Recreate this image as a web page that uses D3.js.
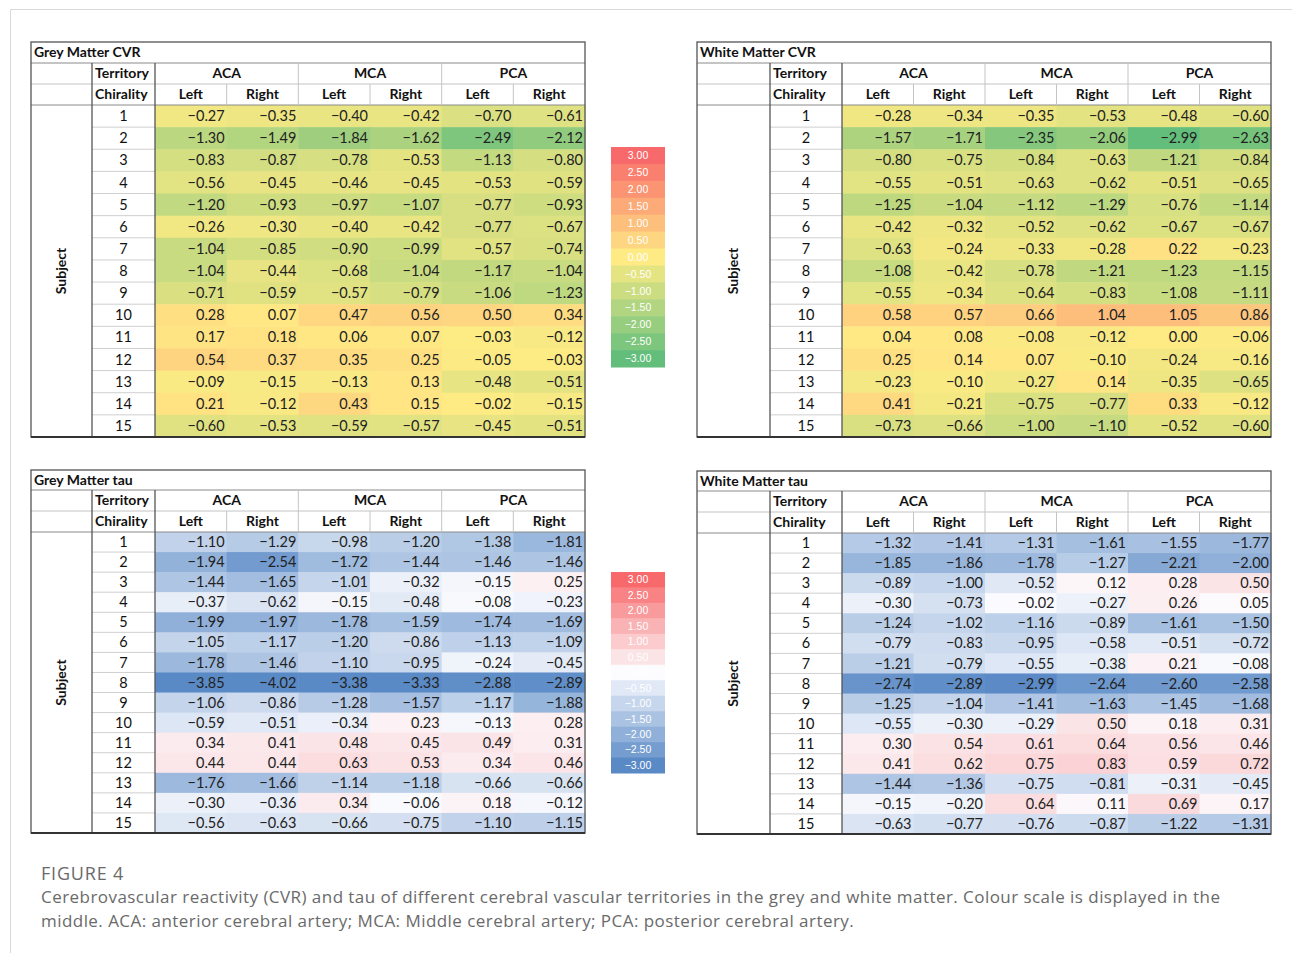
<!DOCTYPE html>
<html>
<head>
<meta charset="utf-8">
<script src="https://cdn.jsdelivr.net/npm/d3@7"></script>
<style>
  body { margin: 0; background: #fff; }
  svg { display: block; }
</style>
</head>
<body>
<svg id="chart"></svg>
<script>
// données
const subjects = [1, 2, 3, 4, 5, 6, 7, 8, 9, 10, 11, 12, 13, 14, 15];
const territories = ['ACA', 'MCA', 'PCA'];
const chirality = ['Left', 'Right'];
const legendSteps = [3, 2.5, 2, 1.5, 1, 0.5, 0, -0.5, -1, -1.5, -2, -2.5, -3];

// colonnes : ACA L, ACA R, MCA L, MCA R, PCA L, PCA R
const gmCvr = [
  [-0.27, -0.35, -0.40, -0.42, -0.70, -0.61],
  [-1.30, -1.49, -1.84, -1.62, -2.49, -2.12],
  [-0.83, -0.87, -0.78, -0.53, -1.13, -0.80],
  [-0.56, -0.45, -0.46, -0.45, -0.53, -0.59],
  [-1.20, -0.93, -0.97, -1.07, -0.77, -0.93],
  [-0.26, -0.30, -0.40, -0.42, -0.77, -0.67],
  [-1.04, -0.85, -0.90, -0.99, -0.57, -0.74],
  [-1.04, -0.44, -0.68, -1.04, -1.17, -1.04],
  [-0.71, -0.59, -0.57, -0.79, -1.06, -1.23],
  [0.28, 0.07, 0.47, 0.56, 0.50, 0.34],
  [0.17, 0.18, 0.06, 0.07, -0.03, -0.12],
  [0.54, 0.37, 0.35, 0.25, -0.05, -0.03],
  [-0.09, -0.15, -0.13, 0.13, -0.48, -0.51],
  [0.21, -0.12, 0.43, 0.15, -0.02, -0.15],
  [-0.60, -0.53, -0.59, -0.57, -0.45, -0.51]
];

const wmCvr = [
  [-0.28, -0.34, -0.35, -0.53, -0.48, -0.60],
  [-1.57, -1.71, -2.35, -2.06, -2.99, -2.63],
  [-0.80, -0.75, -0.84, -0.63, -1.21, -0.84],
  [-0.55, -0.51, -0.63, -0.62, -0.51, -0.65],
  [-1.25, -1.04, -1.12, -1.29, -0.76, -1.14],
  [-0.42, -0.32, -0.52, -0.62, -0.67, -0.67],
  [-0.63, -0.24, -0.33, -0.28, 0.22, -0.23],
  [-1.08, -0.42, -0.78, -1.21, -1.23, -1.15],
  [-0.55, -0.34, -0.64, -0.83, -1.08, -1.11],
  [0.58, 0.57, 0.66, 1.04, 1.05, 0.86],
  [0.04, 0.08, -0.08, -0.12, 0.00, -0.06],
  [0.25, 0.14, 0.07, -0.10, -0.24, -0.16],
  [-0.23, -0.10, -0.27, 0.14, -0.35, -0.65],
  [0.41, -0.21, -0.75, -0.77, 0.33, -0.12],
  [-0.73, -0.66, -1.00, -1.10, -0.52, -0.60]
];

const gmTau = [
  [-1.10, -1.29, -0.98, -1.20, -1.38, -1.81],
  [-1.94, -2.54, -1.72, -1.44, -1.46, -1.46],
  [-1.44, -1.65, -1.01, -0.32, -0.15, 0.25],
  [-0.37, -0.62, -0.15, -0.48, -0.08, -0.23],
  [-1.99, -1.97, -1.78, -1.59, -1.74, -1.69],
  [-1.05, -1.17, -1.20, -0.86, -1.13, -1.09],
  [-1.78, -1.46, -1.10, -0.95, -0.24, -0.45],
  [-3.85, -4.02, -3.38, -3.33, -2.88, -2.89],
  [-1.06, -0.86, -1.28, -1.57, -1.17, -1.88],
  [-0.59, -0.51, -0.34, 0.23, -0.13, 0.28],
  [0.34, 0.41, 0.48, 0.45, 0.49, 0.31],
  [0.44, 0.44, 0.63, 0.53, 0.34, 0.46],
  [-1.76, -1.66, -1.14, -1.18, -0.66, -0.66],
  [-0.30, -0.36, 0.34, -0.06, 0.18, -0.12],
  [-0.56, -0.63, -0.66, -0.75, -1.10, -1.15]
];

const wmTau = [
  [-1.32, -1.41, -1.31, -1.61, -1.55, -1.77],
  [-1.85, -1.86, -1.78, -1.27, -2.21, -2.00],
  [-0.89, -1.00, -0.52, 0.12, 0.28, 0.50],
  [-0.30, -0.73, -0.02, -0.27, 0.26, 0.05],
  [-1.24, -1.02, -1.16, -0.89, -1.61, -1.50],
  [-0.79, -0.83, -0.95, -0.58, -0.51, -0.72],
  [-1.21, -0.79, -0.55, -0.38, 0.21, -0.08],
  [-2.74, -2.89, -2.99, -2.64, -2.60, -2.58],
  [-1.25, -1.04, -1.41, -1.63, -1.45, -1.68],
  [-0.55, -0.30, -0.29, 0.50, 0.18, 0.31],
  [0.30, 0.54, 0.61, 0.64, 0.56, 0.46],
  [0.41, 0.62, 0.75, 0.83, 0.59, 0.72],
  [-1.44, -1.36, -0.75, -0.81, -0.31, -0.45],
  [-0.15, -0.20, 0.64, 0.11, 0.69, 0.17],
  [-0.63, -0.77, -0.76, -0.87, -1.22, -1.31]
];

const width = 1292;
const height = 953;
const fmt = d3.format('.2f');
const tableFont = 'Lato, "Liberation Sans", sans-serif';

const svg = d3.select('#chart')
  .attr('width', width)
  .attr('height', height);

// cadre gris clair
svg.append('path')
  .attr('d', `M10.5,${height} V9.5 H${width}`)
  .attr('fill', 'none')
  .attr('stroke', '#d9d9d9')
  .attr('stroke-width', 1);

// échelles de couleur (style Excel)
const cvrColor = d3.scaleLinear()
  .domain([-3, 0, 3])
  .range(['#63be7b', '#ffeb84', '#f8696b'])
  .clamp(true);

const tauColor = d3.scaleLinear()
  .domain([-3, 0, 3])
  .range(['#5a8ac6', '#fcfcff', '#f8696b'])
  .clamp(true);

const columns = territories.flatMap(t => chirality.map(c => `${t}-${c}`));

function drawTable(cfg, title, values, color) {
  const g = svg.append('g').attr('font-family', tableFont);

  const xSubj = cfg.x0;
  const xTerr = cfg.x0 + cfg.subjW;
  const xData = xTerr + cfg.terrW;
  const yTitle = cfg.y0 + cfg.titleH;
  const yTerr = yTitle + cfg.headH;
  const yData = yTerr + cfg.headH;

  const x = d3.scaleBand().domain(columns).range([xData, cfg.x1]);
  const xT = d3.scaleBand().domain(territories).range([xData, cfg.x1]);
  const y = d3.scaleBand().domain(subjects).range([yData, cfg.y1]);

  // cellules colorées
  subjects.forEach((s, i) => {
    columns.forEach((c, j) => {
      const v = values[i][j];
      g.append('rect')
        .attr('x', x(c))
        .attr('y', y(s))
        .attr('width', x.bandwidth() + 0.5)
        .attr('height', y.bandwidth() + 0.5)
        .attr('fill', color(v));
      g.append('text')
        .attr('x', x(c) + x.bandwidth() - 2)
        .attr('y', y(s) + y.bandwidth() / 2)
        .attr('dy', '0.35em')
        .attr('text-anchor', 'end')
        .attr('font-size', 14.5)
        .attr('fill', '#222')
        .text(fmt(v));
    });
    // numéro du sujet
    g.append('text')
      .attr('x', xTerr + cfg.terrW / 2)
      .attr('y', y(s) + y.bandwidth() / 2)
      .attr('dy', '0.35em')
      .attr('text-anchor', 'middle')
      .attr('font-size', 14.5)
      .attr('fill', '#111')
      .text(s);
    if (i > 0) {
      g.append('line')
        .attr('x1', xTerr).attr('x2', xData)
        .attr('y1', y(s)).attr('y2', y(s))
        .attr('stroke', '#cfcfcf');
    }
  });

  // lignes d'en-tête
  const hline = (yy, xa, xb, col) => g.append('line')
    .attr('x1', xa).attr('x2', xb).attr('y1', yy).attr('y2', yy)
    .attr('stroke', col).attr('stroke-width', 1);
  const vline = (xx, ya, yb, col, w = 1) => g.append('line')
    .attr('x1', xx).attr('x2', xx).attr('y1', ya).attr('y2', yb)
    .attr('stroke', col).attr('stroke-width', w);

  hline(yTitle, cfg.x0, cfg.x1, '#8a8a8a');
  hline(yTerr, cfg.x0, cfg.x1, '#c4c4c4');
  hline(yData, cfg.x0, cfg.x1, '#8a8a8a');
  territories.slice(1).forEach(t => vline(xT(t), yTitle, yData, '#c4c4c4'));
  columns.filter(c => c.endsWith('Right')).forEach(c => vline(x(c), yTerr, yData, '#c4c4c4'));
  vline(xTerr, yTitle, cfg.y1, '#555', 1.3);
  vline(xData, yTitle, cfg.y1, '#555', 1.3);

  // bordure extérieure
  g.append('rect')
    .attr('x', cfg.x0).attr('y', cfg.y0)
    .attr('width', cfg.x1 - cfg.x0).attr('height', cfg.y1 - cfg.y0)
    .attr('fill', 'none').attr('stroke', '#555').attr('stroke-width', 1.3);
  hline(cfg.y1, cfg.x0, cfg.x1, '#333').attr('stroke-width', 2);

  // textes d'en-tête
  g.append('text')
    .attr('x', cfg.x0 + 3).attr('y', cfg.y0 + cfg.titleH / 2).attr('dy', '0.35em')
    .attr('font-size', 14).attr('font-weight', 'bold').attr('fill', '#111')
    .text(title);
  g.append('text')
    .attr('x', xTerr + 3).attr('y', yTitle + cfg.headH / 2).attr('dy', '0.35em')
    .attr('font-size', 14).attr('font-weight', 'bold').attr('fill', '#111')
    .text('Territory');
  g.append('text')
    .attr('x', xTerr + 3).attr('y', yTerr + cfg.headH / 2).attr('dy', '0.35em')
    .attr('font-size', 14).attr('font-weight', 'bold').attr('fill', '#111')
    .text('Chirality');
  territories.forEach(t => {
    g.append('text')
      .attr('x', xT(t) + xT.bandwidth() / 2).attr('y', yTitle + cfg.headH / 2).attr('dy', '0.35em')
      .attr('text-anchor', 'middle')
      .attr('font-size', 14).attr('font-weight', 'bold').attr('fill', '#111')
      .text(t);
  });
  columns.forEach(c => {
    g.append('text')
      .attr('x', x(c) + x.bandwidth() / 2).attr('y', yTerr + cfg.headH / 2).attr('dy', '0.35em')
      .attr('text-anchor', 'middle')
      .attr('font-size', 14).attr('font-weight', 'bold').attr('fill', '#111')
      .text(c.split('-')[1]);
  });
  g.append('text')
    .attr('transform', `translate(${xSubj + cfg.subjW / 2},${(yData + cfg.y1) / 2}) rotate(-90)`)
    .attr('dy', '0.35em')
    .attr('text-anchor', 'middle')
    .attr('font-size', 14).attr('font-weight', 'bold').attr('fill', '#111')
    .text('Subject');
}

function drawLegend(x0, x1, y0, y1, color) {
  const y = d3.scaleBand().domain(legendSteps).range([y0, y1]);
  const g = svg.append('g').attr('font-family', '"Liberation Sans", Arial, sans-serif');
  legendSteps.forEach(v => {
    g.append('rect')
      .attr('x', x0).attr('y', y(v))
      .attr('width', x1 - x0).attr('height', y.bandwidth() + 0.5)
      .attr('fill', color(v));
    g.append('text')
      .attr('x', (x0 + x1) / 2).attr('y', y(v) + y.bandwidth() / 2).attr('dy', '0.35em')
      .attr('text-anchor', 'middle')
      .attr('font-size', 10.5)
      .attr('fill', '#fff')
      .text(fmt(v));
  });
}

const left = { x0: 31, x1: 585, subjW: 61, terrW: 63 };
const right = { x0: 697, x1: 1271, subjW: 73, terrW: 72 };

drawTable({ ...left, y0: 42, y1: 437, titleH: 21, headH: 21 }, 'Grey Matter CVR', gmCvr, cvrColor);
drawTable({ ...right, y0: 42, y1: 437, titleH: 21, headH: 21 }, 'White Matter CVR', wmCvr, cvrColor);
drawTable({ ...left, y0: 470, y1: 833, titleH: 20, headH: 21 }, 'Grey Matter tau', gmTau, tauColor);
drawTable({ ...right, y0: 471, y1: 834, titleH: 20, headH: 21 }, 'White Matter tau', wmTau, tauColor);

drawLegend(611, 665, 147, 367, cvrColor);
drawLegend(611, 665, 572, 773, tauColor);

// légende de la figure
const cap = svg.append('g')
  .attr('font-family', '"Open Sans", "Noto Sans", sans-serif')
  .attr('fill', '#6a6a6a');
cap.append('text')
  .attr('x', 41).attr('y', 880)
  .attr('font-size', 18)
  .attr('letter-spacing', 0.8)
  .text('FIGURE 4');
cap.append('text')
  .attr('x', 41).attr('y', 903)
  .attr('font-size', 17)
  .attr('letter-spacing', 0.45)
  .text('Cerebrovascular reactivity (CVR) and tau of different cerebral vascular territories in the grey and white matter. Colour scale is displayed in the');
cap.append('text')
  .attr('x', 41).attr('y', 927)
  .attr('font-size', 17)
  .attr('letter-spacing', 0.45)
  .text('middle. ACA: anterior cerebral artery; MCA: Middle cerebral artery; PCA: posterior cerebral artery.');
</script>
</body>
</html>
